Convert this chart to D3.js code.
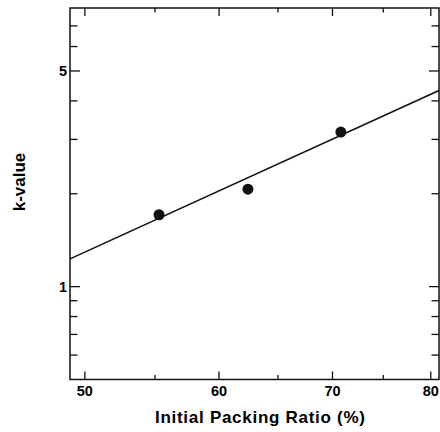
<!DOCTYPE html>
<html>
<head>
<meta charset="utf-8">
<script src="https://cdn.jsdelivr.net/npm/d3@7"></script>
<style>
  body { margin: 0; background: #fff; }
  text { font-family: "Liberation Sans", Arial, sans-serif; font-weight: bold; fill: #000; }
</style>
</head>
<body>
<svg width="440" height="432"></svg>
<script>
// measured points
var packing = [55.3, 62.4, 70.8];
var kValue = [1.71, 2.07, 3.17];

// fitted line (straight on log-log axes)
var fitPacking = [49, 80.9];
var fitK = [1.23, 4.32];

// ticks
var xMajor = [50, 60, 70, 80];
var xMinor = [55, 65, 75];
var yMajor = [1, 5];
var yMinor = [0.6, 0.7, 0.8, 0.9, 2, 3, 4, 6, 7];

function draw() {
    var svg = d3.select("svg");
    var plotL = 70, plotR = 439, plotT = 8, plotB = 379.5;

    var x = d3.scaleLog().domain([49, 80.9]).range([plotL, plotR]);
    var y = d3.scaleLog().domain([0.5, 8]).range([plotB, plotT]);

    var ink = "#111";

    // frame
    svg.append("rect")
        .attr("x", plotL).attr("y", plotT)
        .attr("width", plotR - plotL).attr("height", plotB - plotT)
        .attr("fill", "none").attr("stroke", ink).attr("stroke-width", 1.5);

    var ticks = svg.append("g").attr("stroke", ink).attr("stroke-width", 1.3);

    // x ticks, bottom and top, pointing inward
    function xTicks(vals, len) {
        vals.forEach(function(v) {
            ticks.append("line").attr("x1", x(v)).attr("x2", x(v))
                .attr("y1", plotB).attr("y2", plotB - len);
            ticks.append("line").attr("x1", x(v)).attr("x2", x(v))
                .attr("y1", plotT).attr("y2", plotT + len);
        });
    }
    xTicks(xMajor, 8);
    xTicks(xMinor, 4.5);

    // y ticks, left and right
    function yTicks(vals, len) {
        vals.forEach(function(v) {
            ticks.append("line").attr("y1", y(v)).attr("y2", y(v))
                .attr("x1", plotL).attr("x2", plotL + len);
            ticks.append("line").attr("y1", y(v)).attr("y2", y(v))
                .attr("x1", plotR).attr("x2", plotR - len);
        });
    }
    yTicks(yMajor, 10);
    yTicks(yMinor, 7.5);

    // tick labels
    svg.append("g").selectAll("text")
        .data(xMajor)
        .enter().append("text")
        .attr("x", function(d) { return x(d); })
        .attr("y", 395.5)
        .attr("text-anchor", "middle")
        .attr("font-size", "14.5px")
        .text(function(d) { return d; });

    svg.append("g").selectAll("text")
        .data(yMajor)
        .enter().append("text")
        .attr("x", 67)
        .attr("y", function(d) { return y(d) + 5.5; })
        .attr("text-anchor", "end")
        .attr("font-size", "14.5px")
        .text(function(d) { return d; });

    // axis titles
    svg.append("text")
        .attr("x", 260).attr("y", 423)
        .attr("text-anchor", "middle")
        .attr("font-size", "17px")
        .attr("textLength", 210)
        .attr("lengthAdjust", "spacing")
        .text("Initial Packing Ratio (%)");

    svg.append("text")
        .attr("transform", "translate(25,182) rotate(-90)")
        .attr("text-anchor", "middle")
        .attr("font-size", "17px")
        .text("k-value");

    // fitted line
    var line = d3.line()
        .x(function(d) { return x(d[0]); })
        .y(function(d) { return y(d[1]); });

    svg.append("path")
        .datum(d3.zip(fitPacking, fitK))
        .attr("d", line)
        .attr("fill", "none")
        .attr("stroke", ink)
        .attr("stroke-width", 1.6);

    // data points
    svg.append("g").selectAll("circle")
        .data(d3.zip(packing, kValue))
        .enter().append("circle")
        .attr("cx", function(d) { return x(d[0]); })
        .attr("cy", function(d) { return y(d[1]); })
        .attr("r", 5.5)
        .attr("fill", ink);
}

draw();
</script>
</body>
</html>
